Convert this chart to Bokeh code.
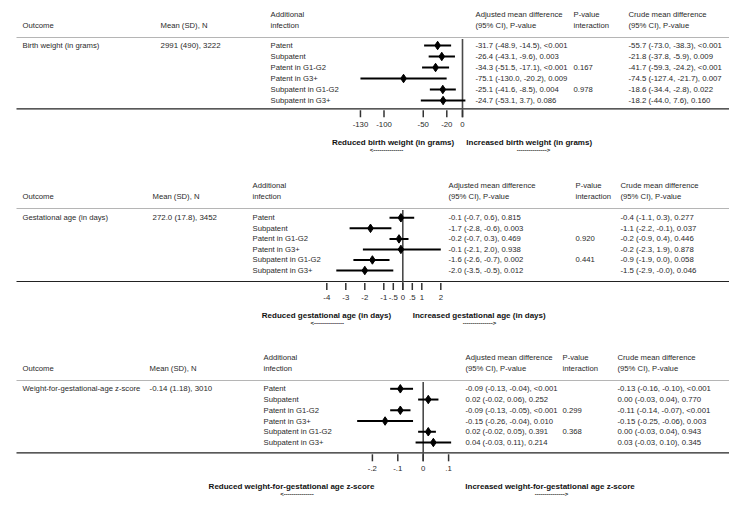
from bokeh.plotting import figure
from bokeh.models import Range1d
from bokeh.embed import file_html
from bokeh.resources import INLINE
from bokeh.core.properties import value

# ---------------- data ----------------
infections = ["Patent", "Subpatent", "Patent in G1-G2", "Patent in G3+",
              "Subpatent in G1-G2", "Subpatent in G3+"]

header_outcome = "Outcome"
header_mean = "Mean (SD), N"
header_inf = ["Additional", "infection"]
header_adj = ["Adjusted mean difference", "(95% CI), P-value"]
header_pint = ["P-value", "interaction"]
header_crude = ["Crude mean difference", "(95% CI), P-value"]

# Birth weight
bw_outcome = "Birth weight (in grams)"
bw_mean = "2991 (490), 3222"
bw_est = [-31.7, -26.4, -34.3, -75.1, -25.1, -24.7]
bw_lo = [-48.9, -43.1, -51.5, -130.0, -41.6, -53.1]
bw_hi = [-14.5, -9.6, -17.1, -20.2, -8.5, 3.7]
bw_p = ["<0.001", "0.003", "<0.001", "0.009", "0.004", "0.086"]
bw_pint = ["", "", "0.167", "", "0.978", ""]
bw_crude = ["-55.7 (-73.0, -38.3), <0.001", "-21.8 (-37.8, -5.9), 0.009",
            "-41.7 (-59.3, -24.2), <0.001", "-74.5 (-127.4, -21.7), 0.007",
            "-18.6 (-34.4, -2.8), 0.022", "-18.2 (-44.0, 7.6), 0.160"]
bw_ticks = [-130, -100, -50, -20, 0]
bw_tick_labels = ["-130", "-100", "-50", "-20", "0"]
bw_dir = ["Reduced birth weight (in grams)", "Increased birth weight (in grams)"]

# Gestational age
ga_outcome = "Gestational age (in days)"
ga_mean = "272.0 (17.8), 3452"
ga_est = [-0.1, -1.7, -0.2, -0.1, -1.6, -2.0]
ga_lo = [-0.7, -2.8, -0.7, -2.1, -2.6, -3.5]
ga_hi = [0.6, -0.6, 0.3, 2.0, -0.7, -0.5]
ga_p = ["0.815", "0.003", "0.469", "0.938", "0.002", "0.012"]
ga_pint = ["", "", "0.920", "", "0.441", ""]
ga_crude = ["-0.4 (-1.1, 0.3), 0.277", "-1.1 (-2.2, -0.1), 0.037",
            "-0.2 (-0.9, 0.4), 0.446", "-0.2 (-2.3, 1.9), 0.878",
            "-0.9 (-1.9, 0.0), 0.058", "-1.5 (-2.9, -0.0), 0.046"]
ga_ticks = [-4, -3, -2, -1, -0.5, 0, 0.5, 1, 2]
ga_tick_labels = ["-4", "-3", "-2", "-1", "-.5", "0", ".5", "1", "2"]
ga_dir = ["Reduced gestational age (in days)", "Increased gestational age (in days)"]

# Weight-for-gestational-age z-score
wz_outcome = "Weight-for-gestational-age z-score"
wz_mean = "-0.14 (1.18), 3010"
wz_est = [-0.09, 0.02, -0.09, -0.15, 0.02, 0.04]
wz_lo = [-0.13, -0.02, -0.13, -0.26, -0.02, -0.03]
wz_hi = [-0.04, 0.06, -0.05, -0.04, 0.05, 0.11]
wz_p = ["<0.001", "0.252", "<0.001", "0.010", "0.391", "0.214"]
wz_pint = ["", "", "0.299", "", "0.368", ""]
wz_crude = ["-0.13 (-0.16, -0.10), <0.001", "0.00 (-0.03, 0.04), 0.770",
            "-0.11 (-0.14, -0.07), <0.001", "-0.15 (-0.25, -0.06), 0.003",
            "0.00 (-0.03, 0.04), 0.943", "0.03 (-0.03, 0.10), 0.345"]
wz_ticks = [-0.2, -0.1, 0, 0.1]
wz_tick_labels = ["-.2", "-.1", "0", ".1"]
wz_dir = ["Reduced weight-for-gestational age z-score",
          "Increased weight-for-gestational age z-score"]

# ---------------- layout ----------------
W, H = 729, 510
X0, Y0 = 0, 0
FONT = value("Liberation Sans")
FS_TXT = "7.7px"
FS_ADJ = "7.7px"
FS_CRUDE = "7.8px"
FS_MEAN = "7.9px"
TXT = "#2a2a2a"

p = figure(width=W, height=H, x_range=Range1d(X0, X0 + W), y_range=Range1d(Y0 + H, Y0),
           output_backend="svg", toolbar_location=None, min_border=0,
           x_axis_location=None, y_axis_location=None)
p.grid.visible = False
p.outline_line_color = None
p.background_fill_color = "white"
p.border_fill_color = "white"

panels = [
    dict(key="bw", outcome=bw_outcome, mean=bw_mean, est=bw_est, lo=bw_lo, hi=bw_hi,
         pv=bw_p, pint=bw_pint, crude=bw_crude, ticks=bw_ticks, tlab=bw_tick_labels,
         dirs=bw_dir, fmt="{:.1f}",
         zero=462.0, scale=0.785,
         cols=[22, 160, 270, 475, 573, 628],
         h1=14, h2=24.5, hrule=37, r0=45, r1=100, brule=108.3,
         dir_x=[392.5, 528.7], arr_x=[386, 533]),
    dict(key="ga", outcome=ga_outcome, mean=ga_mean, est=ga_est, lo=ga_lo, hi=ga_hi,
         pv=ga_p, pint=ga_pint, crude=ga_crude, ticks=ga_ticks, tlab=ga_tick_labels,
         dirs=ga_dir, fmt="{:.1f}",
         zero=402.3, scale=19.0,
         cols=[22, 152, 252, 448, 575, 620],
         h1=185, h2=196, hrule=208, r0=217.3, r1=270, brule=281,
         dir_x=[326, 478.7], arr_x=[326.7, 479]),
    dict(key="wz", outcome=wz_outcome, mean=wz_mean, est=wz_est, lo=wz_lo, hi=wz_hi,
         pv=wz_p, pint=wz_pint, crude=wz_crude, ticks=wz_ticks, tlab=wz_tick_labels,
         dirs=wz_dir, fmt="{:.2f}",
         zero=422.7, scale=254.0,
         cols=[22, 149, 263, 465, 562, 617],
         h1=356.7, h2=367.7, hrule=380, r0=388.3, r1=442, brule=452.3,
         dir_x=[291, 549.5], arr_x=[296.5, 551]),
]


def txt(xs, ys, texts, align="left", style="normal", size=FS_TXT, color=TXT, **kw):
    p.text(x=xs, y=ys, text=texts, text_font=FONT, text_font_size=size,
           text_font_style=style, text_color=color, text_align=align,
           text_baseline="middle", **kw)


for pn in panels:
    key = pn["key"]
    z, s = pn["zero"], pn["scale"]
    p.extra_x_ranges[key] = Range1d((X0 - z) / s, (X0 + W - z) / s)
    c = pn["cols"]
    n = len(infections)
    rows = [pn["r0"] + i * (pn["r1"] - pn["r0"]) / (n - 1) for i in range(n)]

    # headers
    txt([c[0], c[1]], [pn["h2"], pn["h2"]], [header_outcome, header_mean])
    for cx, lines in zip(c[2:], [header_inf, header_adj, header_pint, header_crude]):
        txt([cx, cx], [pn["h1"], pn["h2"]], lines)

    # rules
    p.segment(x0=[16], x1=[X0 + W], y0=[pn["hrule"]], y1=[pn["hrule"]],
              line_color="#b5b5b5", line_width=1)
    p.segment(x0=[16], x1=[X0 + W], y0=[pn["brule"]], y1=[pn["brule"]],
              line_color="#222222", line_width=1.2)

    # table body
    txt([c[0]], [rows[0]], [pn["outcome"]])
    txt([c[1]], [rows[0]], [pn["mean"]], size=FS_MEAN)
    txt([c[2]] * n, rows, infections)
    f = pn["fmt"]
    adj = [f"{f.format(e)} ({f.format(l)}, {f.format(h)}), {pv}"
           for e, l, h, pv in zip(pn["est"], pn["lo"], pn["hi"], pn["pv"])]
    txt([c[3]] * n, rows, adj, size=FS_ADJ)
    txt([c[4]] * n, rows, pn["pint"], size=FS_ADJ)
    txt([c[5]] * n, rows, pn["crude"], size=FS_CRUDE)

    # zero line
    p.segment(x0=[0], x1=[0], y0=[pn["hrule"] + 1.5], y1=[pn["brule"] + 8.5],
              line_color="#4a4a4a", line_width=1.6, x_range_name=key)
    # CI + point estimates
    p.segment(x0=pn["lo"], x1=pn["hi"], y0=rows, y1=rows, line_color="black",
              line_width=2, x_range_name=key)
    p.scatter(x=pn["est"], y=rows, marker="diamond", size=8.5, color="black",
              x_range_name=key)

    # ticks
    nt = len(pn["ticks"])
    p.segment(x0=pn["ticks"], x1=pn["ticks"], y0=[pn["brule"] + 1.5] * nt,
              y1=[pn["brule"] + 8.5] * nt, line_color="#333333", line_width=1.5,
              x_range_name=key)
    txt(pn["ticks"], [pn["brule"] + 16] * nt, pn["tlab"], align="center",
        size="7.8px", x_range_name=key)

    # direction labels
    dy = pn["brule"] + 33.5
    txt(pn["dir_x"], [dy, dy], pn["dirs"], align="center", style="bold",
        size="8px", color="#111111")
    txt(pn["arr_x"], [dy + 7.5, dy + 7.5], ["<---------------", "--------------->"],
        align="center", style="bold", size="6px", color="#111111")

open("out.html", "w").write(file_html(p, INLINE))
